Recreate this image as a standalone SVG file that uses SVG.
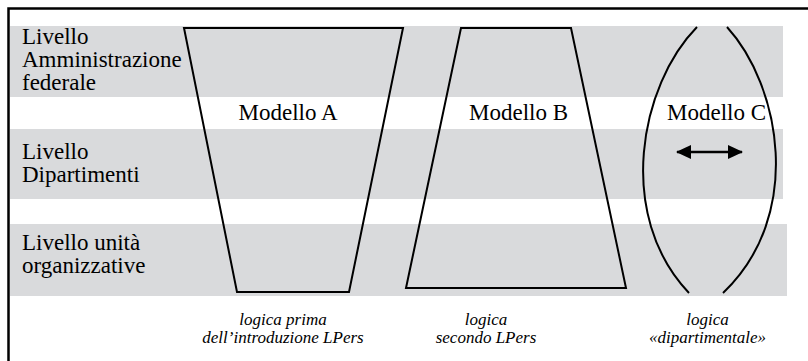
<svg xmlns="http://www.w3.org/2000/svg" width="808" height="361" viewBox="0 0 808 361">
<style>
.band{fill:#d9dadc}
.lvl{font-size:23px}
.mod{font-size:23px;text-anchor:middle}
.cap{font-size:17px;font-style:italic;text-anchor:middle}
.shape{fill:none;stroke:#000;stroke-width:2;stroke-linejoin:miter}
</style>
<defs>
<marker id="ah" viewBox="0 0 15 14" refX="14" refY="7" markerWidth="15" markerHeight="14" orient="auto-start-reverse" markerUnits="userSpaceOnUse">
<path d="M0,0 L15,7 L0,14 z" fill="#000"/>
</marker>
</defs>
<rect x="0" y="0" width="808" height="361" fill="#fff"/>
<g id="bands">
<rect class="band" x="10" y="26" width="773" height="71"/>
<rect class="band" x="10" y="129" width="773" height="70"/>
<rect class="band" x="10" y="224" width="777" height="72"/>
</g>
<g id="frame" fill="none" stroke="#000" stroke-width="2.5">
<path d="M8.5,361 L8.5,8.5 L808,8.5"/>
</g>
<g font-family="Liberation Serif, Times New Roman, serif" fill="#000">
<g id="level-federale">
<text class="lvl" x="22" y="44">Livello</text>
<text class="lvl" x="22" y="67">Amministrazione</text>
<text class="lvl" x="22" y="90">federale</text>
</g>
<g id="level-dipartimenti">
<text class="lvl" x="22" y="159">Livello</text>
<text class="lvl" x="22" y="182">Dipartimenti</text>
</g>
<g id="level-unita">
<text class="lvl" x="22" y="250">Livello unità</text>
<text class="lvl" x="22" y="273">organizzative</text>
</g>
<g id="modello-a">
<path class="shape" d="M184,28 L403,28 L349,292 L237,292 Z"/>
<text class="mod" x="288" y="120">Modello A</text>
<text class="cap" x="283" y="325">logica prima</text>
<text class="cap" x="283" y="343">dell’introduzione LPers</text>
</g>
<g id="modello-b">
<path class="shape" d="M461,28 L571,28 L626,288 L406,288 Z"/>
<text class="mod" x="518.5" y="120">Modello B</text>
<text class="cap" x="486" y="325">logica</text>
<text class="cap" x="486" y="343">secondo LPers</text>
</g>
<g id="modello-c">
<path class="shape" d="M697,27 C640,85 615,215 689,293"/>
<path class="shape" d="M727,27 C780,85 805,215 723,293"/>
<text class="mod" x="716.5" y="120">Modello C</text>
<text class="cap" x="707.5" y="325">logica</text>
<text class="cap" x="707.5" y="343">«dipartimentale»</text>
</g>
</g>
<g id="connectors">
<line x1="677" y1="152" x2="742" y2="152" stroke="#000" stroke-width="2.5" marker-start="url(#ah)" marker-end="url(#ah)"/>
</g>
</svg>
